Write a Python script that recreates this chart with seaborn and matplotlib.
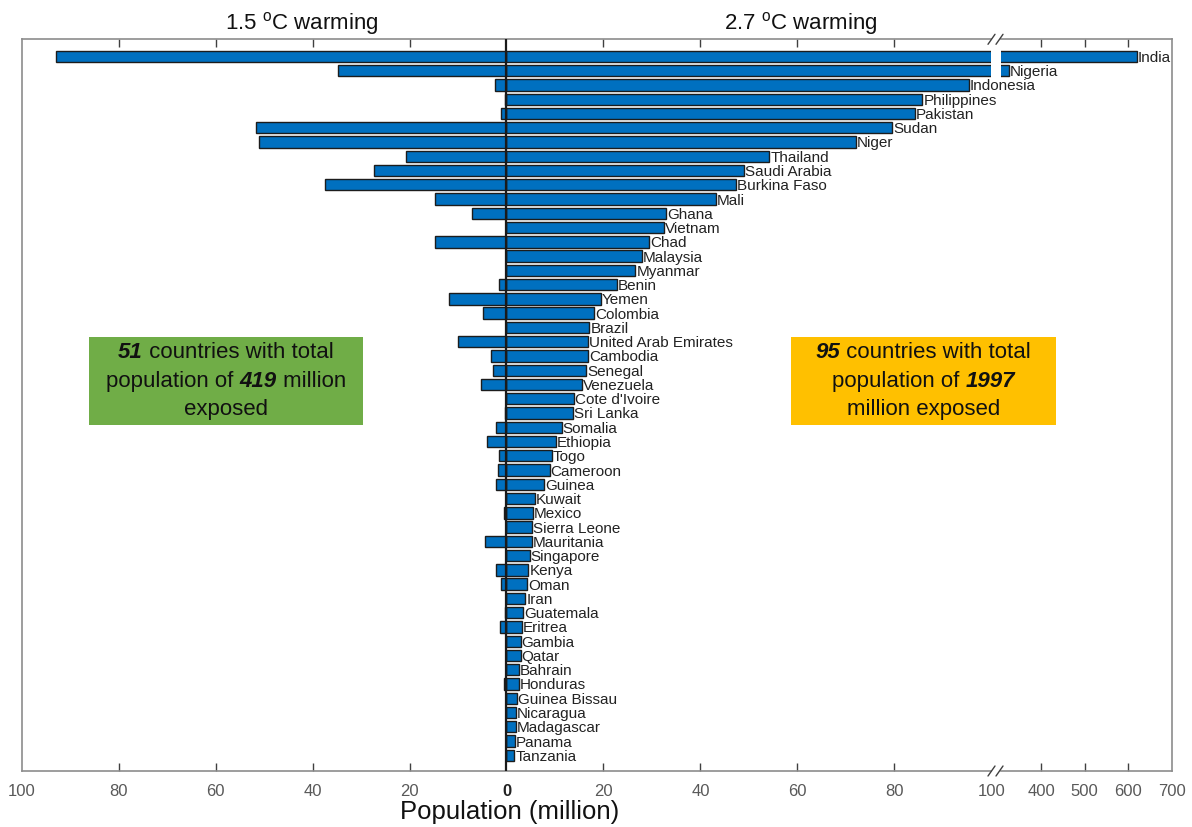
import numpy as np
import pandas as pd
import matplotlib
matplotlib.use("Agg")
import matplotlib.pyplot as plt
import seaborn as sns
from matplotlib.patches import Rectangle
from matplotlib.lines import Line2D
from matplotlib.offsetbox import TextArea, HPacker, AnnotationBbox

# Countries ordered by exposed population under 2.7 degC warming
countries = [
    "India", "Nigeria", "Indonesia", "Philippines", "Pakistan", "Sudan", "Niger",
    "Thailand", "Saudi Arabia", "Burkina Faso", "Mali", "Ghana", "Vietnam", "Chad",
    "Malaysia", "Myanmar", "Benin", "Yemen", "Colombia", "Brazil",
    "United Arab Emirates", "Cambodia", "Senegal", "Venezuela", "Cote d'Ivoire",
    "Sri Lanka", "Somalia", "Ethiopia", "Togo", "Cameroon", "Guinea", "Kuwait",
    "Mexico", "Sierra Leone", "Mauritania", "Singapore", "Kenya", "Oman", "Iran",
    "Guatemala", "Eritrea", "Gambia", "Qatar", "Bahrain", "Honduras",
    "Guinea Bissau", "Nicaragua", "Madagascar", "Panama", "Tanzania",
]

# Exposed population (million) at 2.7 degC warming
pop_27 = [
    620, 325, 95.3, 85.8, 84.3, 79.5, 72.0,
    54.2, 49.0, 47.3, 43.2, 32.9, 32.4, 29.4,
    28.0, 26.6, 22.8, 19.5, 18.1, 17.1,
    16.9, 16.8, 16.4, 15.6, 13.9,
    13.7, 11.4, 10.2, 9.4, 8.9, 7.7, 5.9,
    5.4, 5.2, 5.2, 4.8, 4.5, 4.2, 3.9,
    3.4, 3.2, 2.9, 2.9, 2.5, 2.5,
    2.2, 1.9, 1.9, 1.7, 1.6,
]

# Exposed population (million) at 1.5 degC warming
pop_15 = [
    93.0, 34.8, 2.4, 0.3, 1.1, 51.7, 51.0,
    20.7, 27.3, 37.4, 14.7, 7.1, 0.0, 14.7,
    0.0, 0.0, 1.6, 11.8, 4.9, 0.2,
    10.0, 3.2, 2.8, 5.3, 0.0,
    0.3, 2.1, 4.0, 1.6, 1.7, 2.1, 0.0,
    0.5, 0.1, 4.5, 0.0, 2.1, 1.2, 0.0,
    0.3, 1.3, 0.0, 0.0, 0.0, 0.5,
    0.0, 0.0, 0.0, 0.0, 0.0,
]

left_ticks = [-100, -80, -60, -40, -20, 0, 20, 40, 60, 80, 100]
right_ticks = [400, 500, 600, 700]

sns.set_theme(style="white")
plt.rcParams["font.family"] = ["Liberation Sans", "DejaVu Sans"]
plt.rcParams["mathtext.fontset"] = "custom"
plt.rcParams["mathtext.rm"] = "Liberation Sans"

W, H = 1192, 827
fig = plt.figure(figsize=(W / 100, H / 100), dpi=100)


def fx(px):
    return px / W


def fy(py):
    return 1 - py / H


ax_top, ax_bot = 39.3, 771.0
axL = fig.add_axes([fx(21.7), fy(ax_bot), fx(991.3 - 21.7), (ax_bot - ax_top) / H])
axR = fig.add_axes([fx(1000.7), fy(ax_bot), fx(1171.7 - 1000.7), (ax_bot - ax_top) / H])

df = pd.DataFrame({"country": countries, "warm27": pop_27, "warm15": pop_15})
df["warm15_neg"] = -df["warm15"]

bar_kw = dict(color="#0070C0", edgecolor="#1c1c1c", linewidth=1.0,
              saturation=1, width=0.8, orient="h", errorbar=None)
sns.barplot(data=df, x="warm27", y="country", ax=axL, **bar_kw)
sns.barplot(data=df, x="warm15_neg", y="country", ax=axL, **bar_kw)
sns.barplot(data=df, x="warm27", y="country", ax=axR, **bar_kw)

spine_col = "#8c8c8c"
for ax in (axL, axR):
    ax.patch.set_visible(False)
    ax.set_ylim(len(countries) - 1 + 1.1, -1.2)
    ax.set_yticks([])
    ax.set_ylabel("")
    ax.set_xlabel("")
    for s in ax.spines.values():
        s.set_color(spine_col)
        s.set_linewidth(1.2)
    ax.tick_params(axis="x", direction="in", top=True, bottom=True, length=6,
                   width=1, color="#404040", labelsize=12, labelcolor="#595959", pad=9)

axL.spines["right"].set_visible(False)
axR.spines["left"].set_visible(False)

axL.set_xlim(-100, 100)
axR.set_xlim(307, 700)

axL.set_xticks(left_ticks)
axL.set_xticklabels([str(abs(v)) for v in left_ticks])
axR.set_xticks(right_ticks)
axR.set_xticklabels([str(v) for v in right_ticks])

for v, tk in zip(left_ticks, axL.xaxis.get_major_ticks()):
    if v in (-100, 0, 100):
        tk.tick1line.set_visible(False)
        tk.tick2line.set_visible(False)
for v, tk in zip(right_ticks, axR.xaxis.get_major_ticks()):
    if v == 700:
        tk.tick1line.set_visible(False)
        tk.tick2line.set_visible(False)

for ax in (axL, axR):
    for lbl in ax.get_xticklabels():
        lbl.set_fontfamily(["Liberation Sans Narrow", "Liberation Sans"])
        if lbl.get_text() == "0":
            lbl.set_fontweight("bold")
            lbl.set_color("#222222")

# zero line
axL.axvline(0, color="#1a1a1a", lw=1.6, zorder=5)

# country names at the end of each 2.7 degC bar
for i, (c, v) in enumerate(zip(countries, pop_27)):
    ax = axR if v > 100 else axL
    ax.annotate(c, (v, i), xytext=(1, -1.5), textcoords="offset pixels",
                ha="left", va="center", fontsize=11, color="#222222",
                annotation_clip=False, clip_on=False, zorder=6)

# axis break marks
for ybase in (ax_top, ax_bot):
    for dx in (0, 8):
        fig.add_artist(Line2D([fx(988 + dx), fx(995 + dx)],
                              [fy(ybase + 5), fy(ybase - 5)],
                              transform=fig.transFigure, color="#404040", lw=1.0))

# titles and axis label
fig.text(fx(302), fy(29), r"1.5 $^{\mathrm{o}}$C warming", ha="center",
         va="baseline", fontsize=16, color="#111111")
fig.text(fx(801), fy(29), r"2.7 $^{\mathrm{o}}$C warming", ha="center",
         va="baseline", fontsize=16, color="#111111")
fig.text(fx(510), fy(819), "Population (million)", ha="center", va="baseline",
         fontsize=18.5, color="#111111")


def summary_box(x0, x1, y0, y1, color, lines):
    fig.add_artist(Rectangle((fx(x0), fy(y1)), fx(x1 - x0), (y1 - y0) / H,
                             transform=fig.transFigure, facecolor=color,
                             edgecolor="none", zorder=3))
    xc = (x0 + x1) / 2
    for yline, parts in lines:
        areas = []
        for txt, emph in parts:
            props = dict(fontsize=16, color="#111111")
            if emph:
                props.update(fontweight="bold", fontstyle="italic")
            areas.append(TextArea(txt, textprops=props))
        pack = HPacker(children=areas, align="baseline", pad=0, sep=0)
        ab = AnnotationBbox(pack, (fx(xc), fy(yline)), xycoords="figure fraction",
                            frameon=False, box_alignment=(0.5, 0.5), zorder=4)
        fig.add_artist(ab)


summary_box(89, 363, 336.5, 424.5, "#70AD47", [
    (353, [("51", True), (" countries with total", False)]),
    (381.5, [("population of ", False), ("419", True), (" million", False)]),
    (409, [("exposed", False)]),
])
summary_box(791, 1056, 336.5, 424.5, "#FFC000", [
    (353, [("95", True), (" countries with total", False)]),
    (381.5, [("population of ", False), ("1997", True)]),
    (409, [("million exposed", False)]),
])

fig.savefig("out.png", dpi=100)
